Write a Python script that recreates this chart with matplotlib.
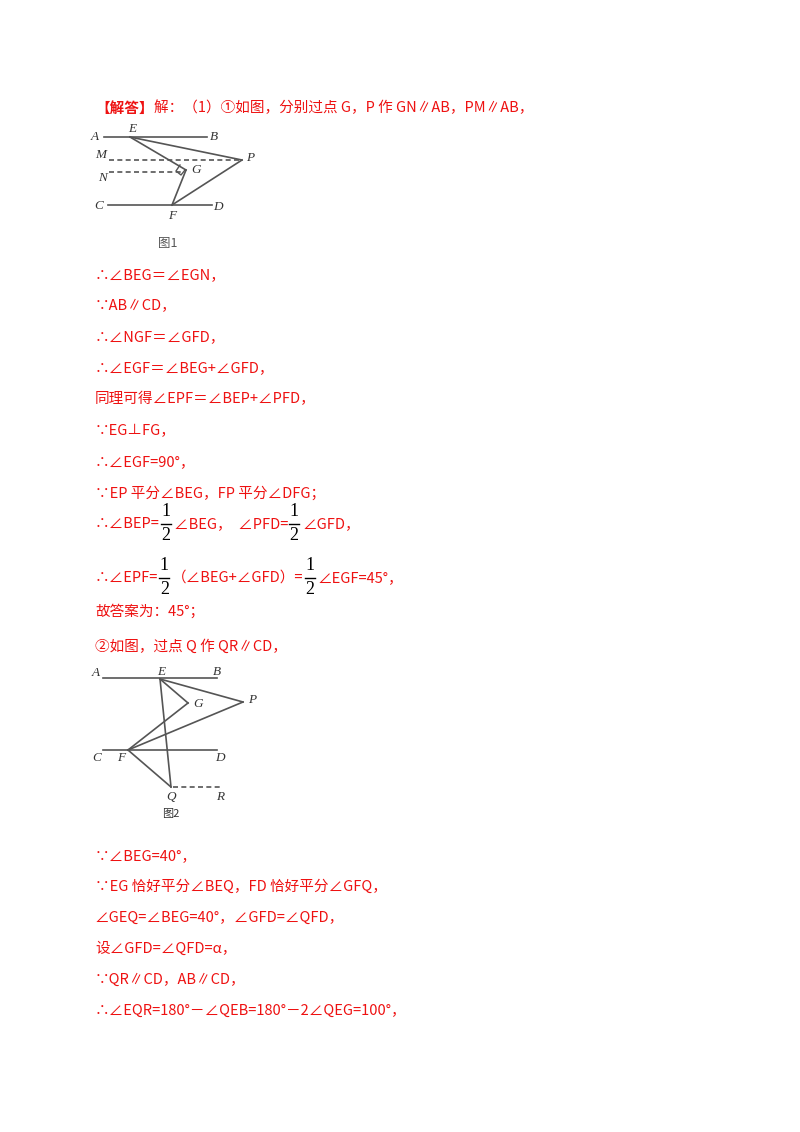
import matplotlib.pyplot as plt

plt.rcParams['font.family'] = ['Noto Sans CJK SC', 'DejaVu Sans']
RED = '#ee1111'
GRAY = '#555555'
FS = 10.5

# solution text lines (y in pixels, text)
header = "解：（1）①如图，分别过点 G，P 作 GN∥AB，PM∥AB，"
lines1 = [
    (275, "∴∠BEG＝∠EGN，"),
    (306, "∵AB∥CD，"),
    (337, "∴∠NGF＝∠GFD，"),
    (368, "∴∠EGF＝∠BEG+∠GFD，"),
    (399, "同理可得∠EPF＝∠BEP+∠PFD，"),
    (431, "∵EG⊥FG，"),
    (462, "∴∠EGF=90°，"),
    (493, "∵EP 平分∠BEG，FP 平分∠DFG；"),
]
frac_line1 = ["∴∠BEP=", None, "∠BEG，  ∠PFD=", None, "∠GFD，"]
frac_line2 = ["∴∠EPF=", None, "（∠BEG+∠GFD）=", None, "∠EGF=45°，"]
lines2 = [
    (611, "故答案为：45°；"),
    (647, "②如图，过点 Q 作 QR∥CD，"),
]
lines3 = [
    (856, "∵∠BEG=40°，"),
    (887, "∵EG 恰好平分∠BEQ，FD 恰好平分∠GFQ，"),
    (918, "∠GEQ=∠BEG=40°，∠GFD=∠QFD，"),
    (949, "设∠GFD=∠QFD=α，"),
    (980, "∵QR∥CD，AB∥CD，"),
    (1011, "∴∠EQR=180°－∠QEB=180°－2∠QEG=100°，"),
]

# figure 1 points
f1_pts = {'E': (130, 137), 'P': (242, 160), 'G': (186, 170), 'F': (172, 205)}
f1_solid = [((104, 137), (207, 137)), ((108, 205), (212, 205)),
            ('E', 'P'), ('E', 'G'), ('G', 'F'), ('P', 'F')]
f1_dash = [((109, 160), (242, 160)), ((109, 172), (182, 172))]
f1_labels = [('A', 95, 137), ('E', 132, 129), ('B', 214, 137), ('M', 101, 155),
             ('P', 250, 158), ('N', 103, 178), ('G', 196, 170), ('C', 99, 206),
             ('D', 218, 207), ('F', 172, 216)]

# figure 2 points
f2_pts = {'E': (160, 679), 'G': (188, 703), 'P': (243, 702), 'F': (128, 750), 'Q': (171, 787)}
f2_solid = [((103, 678), (217, 678)), ((103, 750), (217, 750)),
            ('E', 'G'), ('G', 'F'), ('E', 'P'), ('P', 'F'), ('E', 'Q'), ('F', 'Q')]
f2_dash = [((173, 787), (221, 787))]
f2_labels = [('A', 96, 673), ('E', 161, 672), ('B', 217, 672), ('G', 198, 704),
             ('P', 252, 700), ('C', 97, 758), ('F', 121, 758), ('D', 220, 758),
             ('Q', 171, 797), ('R', 220, 797)]

fig = plt.figure(figsize=(8, 11.32), dpi=100)
ax = fig.add_axes([0, 0, 1, 1])
ax.set_xlim(0, 800)
ax.set_ylim(1132, 0)
ax.axis('off')
renderer = fig.canvas.get_renderer()

def txt(x, y, s, **kw):
    kw.setdefault('color', RED)
    kw.setdefault('fontsize', FS)
    t = ax.text(x, y, s, va='center', ha='left', **kw)
    bb = t.get_window_extent(renderer)
    return ax.transData.inverted().transform((bb.x1, 0))[0]

end = txt(95, 108, "【解答】", fontweight='bold')
txt(end, 108, header)
for y, s in lines1 + lines2 + lines3:
    txt(95, y, s)

def frac(x, y):
    ax.text(x, y - 12, "1", fontsize=13, family='Liberation Serif', ha='center', va='center')
    ax.text(x, y + 12, "2", fontsize=13, family='Liberation Serif', ha='center', va='center')
    ax.plot([x - 5, x + 5], [y, y], color='black', lw=1)
    return x + 8

for y, segs in [(524, frac_line1), (578, frac_line2)]:
    x = 95
    for s in segs:
        x = frac(x + 6, y) if s is None else txt(x, y, s)

def draw_fig(pts, solid, dash, labels):
    def p(k):
        return pts[k] if isinstance(k, str) else k
    for a, b in solid:
        (x0, y0), (x1, y1) = p(a), p(b)
        ax.plot([x0, x1], [y0, y1], color=GRAY, lw=1.2)
    for a, b in dash:
        (x0, y0), (x1, y1) = p(a), p(b)
        ax.plot([x0, x1], [y0, y1], color=GRAY, lw=1.2, ls=(0, (3, 2)))
    for s, x, y in labels:
        ax.text(x, y, s, fontsize=9.5, family='Liberation Serif', style='italic',
                ha='center', va='center', color='#333333')

draw_fig(f1_pts, f1_solid, f1_dash, f1_labels)
draw_fig(f2_pts, f2_solid, f2_dash, f2_labels)
# right angle mark at G (fig 1)
ax.plot([180, 176, 181, 185], [165, 171, 175, 170], color=GRAY, lw=1)
ax.text(168, 243, "图1", fontsize=9, color='#555555', ha='center', va='center')
ax.text(171, 814, "图2", fontsize=8, color='#333333', ha='center', va='center')

fig.savefig('out.png', dpi=100)
